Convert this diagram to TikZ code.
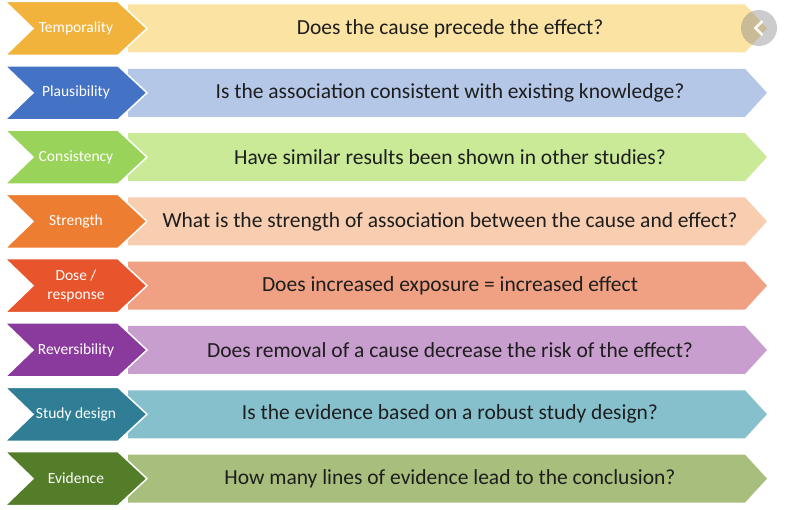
\documentclass[tikz,border=0pt]{standalone}
\usepackage{fontspec}
\setmainfont{Carlito}
\definecolor{c1d}{HTML}{F1B33C}\definecolor{c1l}{HTML}{FBE3A3}
\definecolor{c2d}{HTML}{4472C4}\definecolor{c2l}{HTML}{B4C7E7}
\definecolor{c3d}{HTML}{9AD35A}\definecolor{c3l}{HTML}{CAEA98}
\definecolor{c4d}{HTML}{ED7D31}\definecolor{c4l}{HTML}{F8CDB0}
\definecolor{c5d}{HTML}{E8542B}\definecolor{c5l}{HTML}{F0A183}
\definecolor{c6d}{HTML}{8A3A9C}\definecolor{c6l}{HTML}{C79ECD}
\definecolor{c7d}{HTML}{2F7E96}\definecolor{c7l}{HTML}{86C0CC}
\definecolor{c8d}{HTML}{547D29}\definecolor{c8l}{HTML}{A8BE7C}
\definecolor{qtext}{HTML}{1E1E1E}
\tikzset{
  labtext/.style={text=white, font=\fontsize{15.5}{19}\selectfont, align=center, inner sep=0pt},
  qtext/.style={text=qtext, font=\fontsize{21.5}{24}\selectfont, inner sep=0pt},
  chev/.style={draw=white, line width=1.5pt, line join=miter},
}
\begin{document}
\begin{tikzpicture}[x=1pt,y=-1pt]
\useasboundingbox (0,0) rectangle (793,510);
\fill[white] (0,0) rectangle (793,510);
\foreach \i/\lab/\q in {
 1/{Temporality}/{Does the cause precede the effect?},
 2/{Plausibility}/{Is the association consistent with existing knowledge?},
 3/{Consistency}/{Have similar results been shown in other studies?},
 4/{Strength}/{What is the strength of association between the cause and effect?},
 5/{Dose /\\ response}/{Does increased exposure = increased effect},
 6/{Reversibility}/{Does removal of a cause decrease the risk of the effect?},
 7/{Study design}/{Is the evidence based on a robust study design?},
 8/{Evidence}/{How many lines of evidence lead to the conclusion?}}{
  \pgfmathsetmacro\cy{28.5+64.3*(\i-1)}
  \fill[c\i l] (128,\cy-24) -- (745,\cy-24) -- (767,\cy) -- (745,\cy+24) -- (128,\cy+24) -- cycle;
  \filldraw[chev, fill=c\i d] (5,\cy-27) -- (118,\cy-27) -- (147,\cy) -- (118,\cy+27) -- (5,\cy+27) -- (33,\cy) -- cycle;
  \node[labtext] (l\i) at (76,\cy) {\lab};
  \node[qtext] (q\i) at (450,\cy) {\q};
}
\node[circle, fill=gray, fill opacity=0.4, minimum size=36pt, inner sep=0pt] (btn) at (759,28) {};
\draw[white, opacity=0.9, line width=2.5pt] ([xshift=3.5pt,yshift=7pt]btn.center) -- ([xshift=-3.5pt]btn.center) -- ([xshift=3.5pt,yshift=-7pt]btn.center);
\end{tikzpicture}
\end{document}
